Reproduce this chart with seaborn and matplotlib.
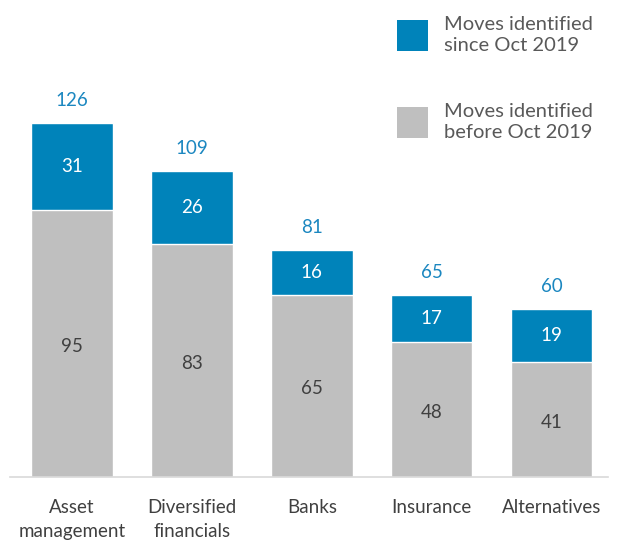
import matplotlib
matplotlib.use("Agg")
import matplotlib.pyplot as plt
import pandas as pd
import seaborn as sns
from matplotlib.patches import Patch

# Data
categories = ["Asset\nmanagement", "Diversified\nfinancials", "Banks", "Insurance", "Alternatives"]
before_oct = [95, 83, 65, 48, 41]
since_oct = [31, 26, 16, 17, 19]
totals = [b + s for b, s in zip(before_oct, since_oct)]

BLUE = "#0083BA"
GREY = "#BFBFBF"
TEXT_DARK = "#404040"

df = pd.DataFrame({"cat": categories, "before": before_oct, "since": since_oct, "total": totals})

sns.set_theme(style="white")
plt.rcParams["font.family"] = ["Lato", "DejaVu Sans"]

fig = plt.figure(figsize=(6.18, 5.42), dpi=100)
ax = fig.add_axes([10 / 618, 65 / 542, 598 / 618, 477 / 542])

# stacked: total (blue) first, then the "before" part in grey over it
sns.barplot(data=df, x="cat", y="total", color=BLUE, width=0.68, saturation=1, ax=ax)
sns.barplot(data=df, x="cat", y="before", color=GREY, width=0.68, saturation=1, ax=ax)

ax.set_xlim(-0.517, 4.47)
ax.set_ylim(0, 170)
ax.set_xlabel("")
ax.set_ylabel("")
ax.set_yticks([])
for side in ["top", "right", "left"]:
    ax.spines[side].set_visible(False)
ax.spines["bottom"].set_color("#D9D9D9")
ax.spines["bottom"].set_linewidth(1.2)
ax.tick_params(axis="x", length=0, pad=16, labelsize=13.5, labelcolor=TEXT_DARK)
for lbl in ax.get_xticklabels():
    lbl.set_linespacing(1.5)
    lbl.set_verticalalignment("top")

for i in range(len(categories)):
    b, s, t = before_oct[i], since_oct[i], totals[i]
    ax.text(i, b / 2 - 1, str(b), ha="center", va="center", fontsize=13.5, color=TEXT_DARK)
    ax.text(i, b + s / 2, str(s), ha="center", va="center", fontsize=13.5, color="white")
    ax.text(i, t + 5, str(t), ha="center", va="bottom", fontsize=13.5, color="#1B87C0")

handles = [Patch(facecolor=BLUE, edgecolor="none"), Patch(facecolor=GREY, edgecolor="none")]
labels = ["Moves identified\nsince Oct 2019", "Moves identified\nbefore Oct 2019"]
leg = fig.legend(handles, labels, loc="upper left", bbox_to_anchor=(381 / 618, 1.0),
                 frameon=False, fontsize=14.5, handlelength=1.55, handleheight=2.0,
                 labelspacing=2.4, handletextpad=0.8, borderpad=0.3)
for txt in leg.get_texts():
    txt.set_color("#595959")
    txt.set_linespacing(1.3)

fig.savefig("out.png", dpi=100)
